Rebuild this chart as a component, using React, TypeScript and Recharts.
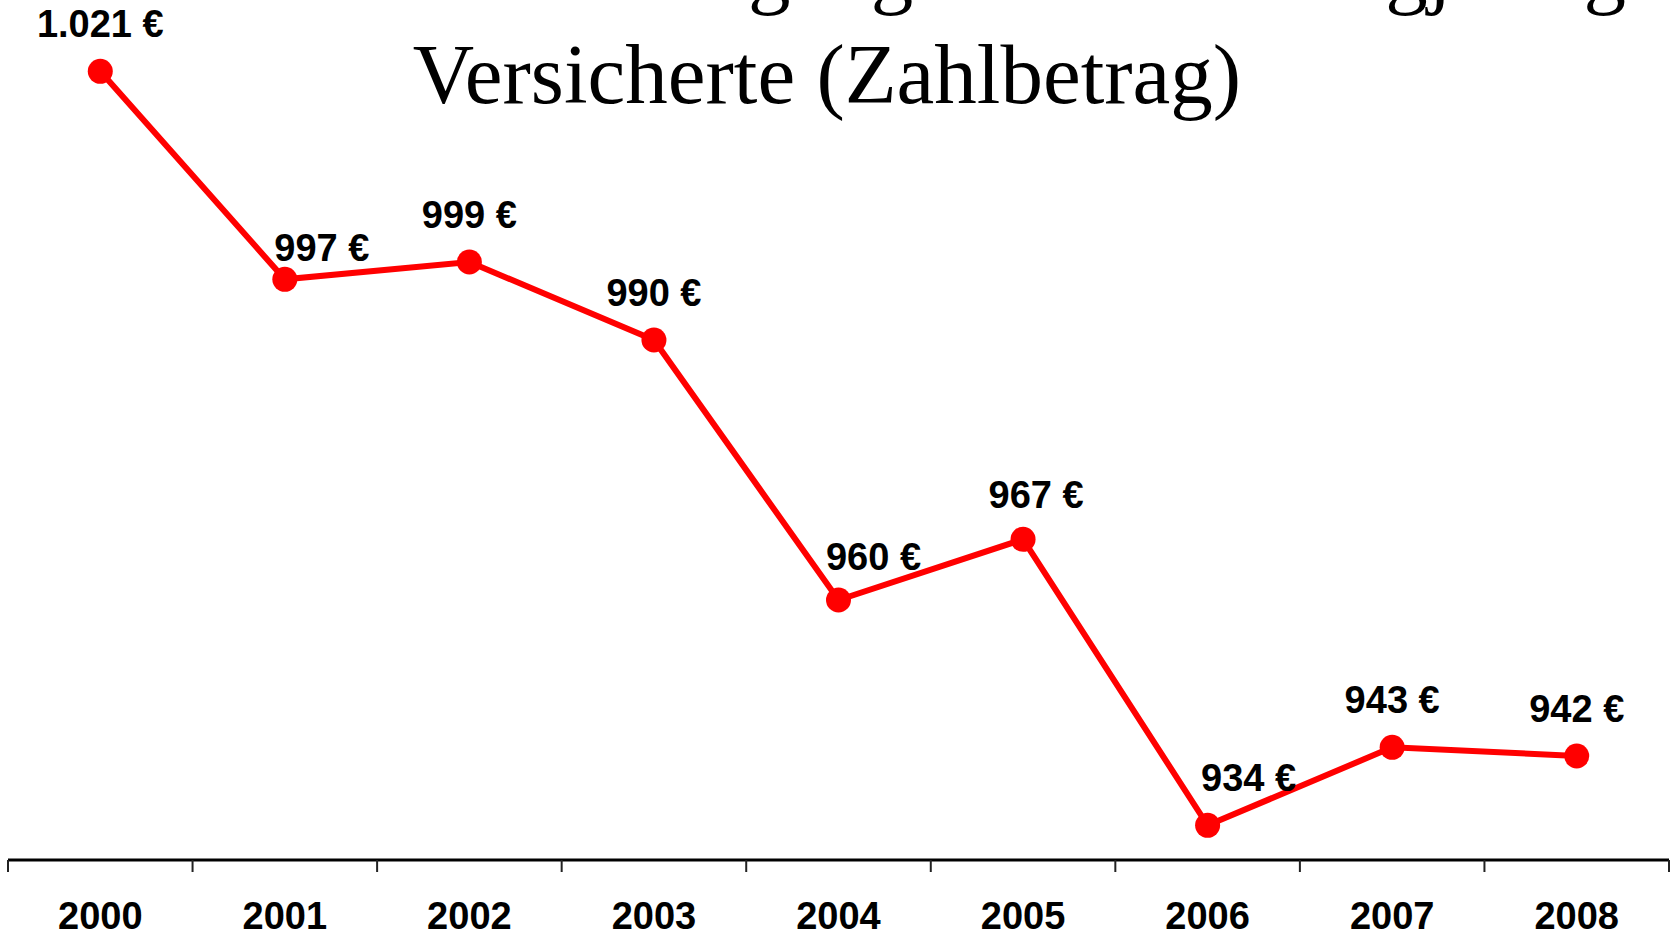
import { LabelList, Line, LineChart, XAxis, YAxis } from "recharts";

const years = ["2000", "2001", "2002", "2003", "2004", "2005", "2006", "2007", "2008"];
const amounts = [1021, 997, 999, 990, 960, 967, 934, 943, 942];
const valueLabels = ["1.021 €", "997 €", "999 €", "990 €", "960 €", "967 €", "934 €", "943 €", "942 €"];
const titleLines = ["Durchschnittliche Zugangsrenten an langjährig", "Versicherte (Zahlbetrag)"];

// label nudges (dx, baseline offset above the point) where the original moved them aside
const labelNudge: Record<string, [number, number]> = {
  "2001": [37, -18],
  "2004": [35, -30],
  "2005": [13, -31],
  "2006": [41, -34],
};

const data = years.map((year, i) => ({ year, amount: amounts[i], label: valueLabels[i] }));

const W = 1673;
const H = 934;
const M = { top: 2, right: 4, left: 8, bottom: 14 };
const BAND = (W - M.left - M.right) / years.length;
const FONT = "'Liberation Sans', Arial, sans-serif";

function YearTick(props: any) {
  const { x, y, payload, index } = props;
  const last = index === years.length - 1;
  return (
    <g>
      <line x1={x - BAND / 2} x2={x - BAND / 2} y1={y} y2={y + 12} stroke="#222" strokeWidth={2} />
      {last && <line x1={x + BAND / 2} x2={x + BAND / 2} y1={y} y2={y + 12} stroke="#222" strokeWidth={2} />}
      <text x={x} y={y + 69} textAnchor="middle" fontFamily={FONT} fontWeight="bold" fontSize={38} fill="#000">
        {payload.value}
      </text>
    </g>
  );
}

function ValueLabel(props: any) {
  const { x, y, index, value } = props;
  const year = years[index];
  const [dx, dy] = labelNudge[year] ?? [0, -34];
  return (
    <text x={x + dx} y={y + dy} textAnchor="middle" fontFamily={FONT} fontWeight="bold" fontSize={38} fill="#000">
      {value}
    </text>
  );
}

export default function App() {
  return (
    <div style={{ position: "absolute", left: 0, top: 0, width: W, height: H, background: "#fff", overflow: "hidden" }}>
      <LineChart width={W} height={H} data={data} margin={M}>
        <XAxis
          dataKey="year"
          scale="band"
          height={60}
          tickSize={0}
          tickMargin={0}
          tickLine={false}
          axisLine={{ stroke: "#000", strokeWidth: 3 }}
          tick={<YearTick />}
          interval={0}
        />
        <YAxis hide domain={[930, 1029]} />
        <Line
          dataKey="amount"
          type="linear"
          stroke="#ff0000"
          strokeWidth={6}
          dot={{ r: 12.5, fill: "#ff0000", stroke: "none" }}
          activeDot={false}
          isAnimationActive={false}
        >
          <LabelList dataKey="label" content={<ValueLabel />} />
        </Line>
      </LineChart>
      <svg width={W} height={H} style={{ position: "absolute", left: 0, top: 0, pointerEvents: "none" }}>
        <text x={827} y={-2} textAnchor="middle" fontFamily="'Liberation Serif', 'Times New Roman', serif" fontSize={85} fill="#000">
          {titleLines[0]}
        </text>
        <text x={827} y={103} textAnchor="middle" fontFamily="'Liberation Serif', 'Times New Roman', serif" fontSize={85} fill="#000">
          {titleLines[1]}
        </text>
      </svg>
    </div>
  );
}
